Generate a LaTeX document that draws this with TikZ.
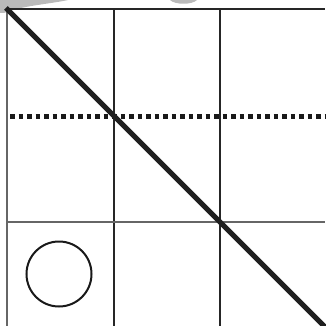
\documentclass[tikz,border=0pt]{standalone}
\begin{document}
\begin{tikzpicture}[x=1pt,y=-1pt,
  thinblack/.style={line width=1.9pt,draw=black!85},
  thingrey/.style={line width=2pt,draw=black!60},
  thickline/.style={line width=5pt,draw=black!88},
  dotline/.style={line width=5pt,draw=black!90,dash pattern=on 4.5pt off 4pt},
  wm/.style={fill=black!27,draw=none}]
\useasboundingbox (0,0) rectangle (325,326);
% watermark fragments
\fill[wm] (0,0) -- (68,0) .. controls (50,4) and (20,6) .. (4,13) -- (0,13) -- cycle;
\fill[wm] (170,0) .. controls (175,5) and (192,5) .. (197,0) -- cycle;
% grid
\draw[thinblack] (7,9) -- (325,9);
\draw[thingrey] (7,9) -- (7,326);
\draw[thinblack] (114,9) -- (114,326);
\draw[thinblack] (220,9) -- (220,326);
\draw[thingrey] (7,222) -- (325,222);
\draw[dotline] (10,116.5) -- (325,116.5);
% diagonal
\draw[thickline] (6,8) -- (326,328);
% circle
\node[circle,draw=black!90,line width=2pt,minimum size=65pt,inner sep=0pt] (c) at (59,274) {};
\end{tikzpicture}
\end{document}
